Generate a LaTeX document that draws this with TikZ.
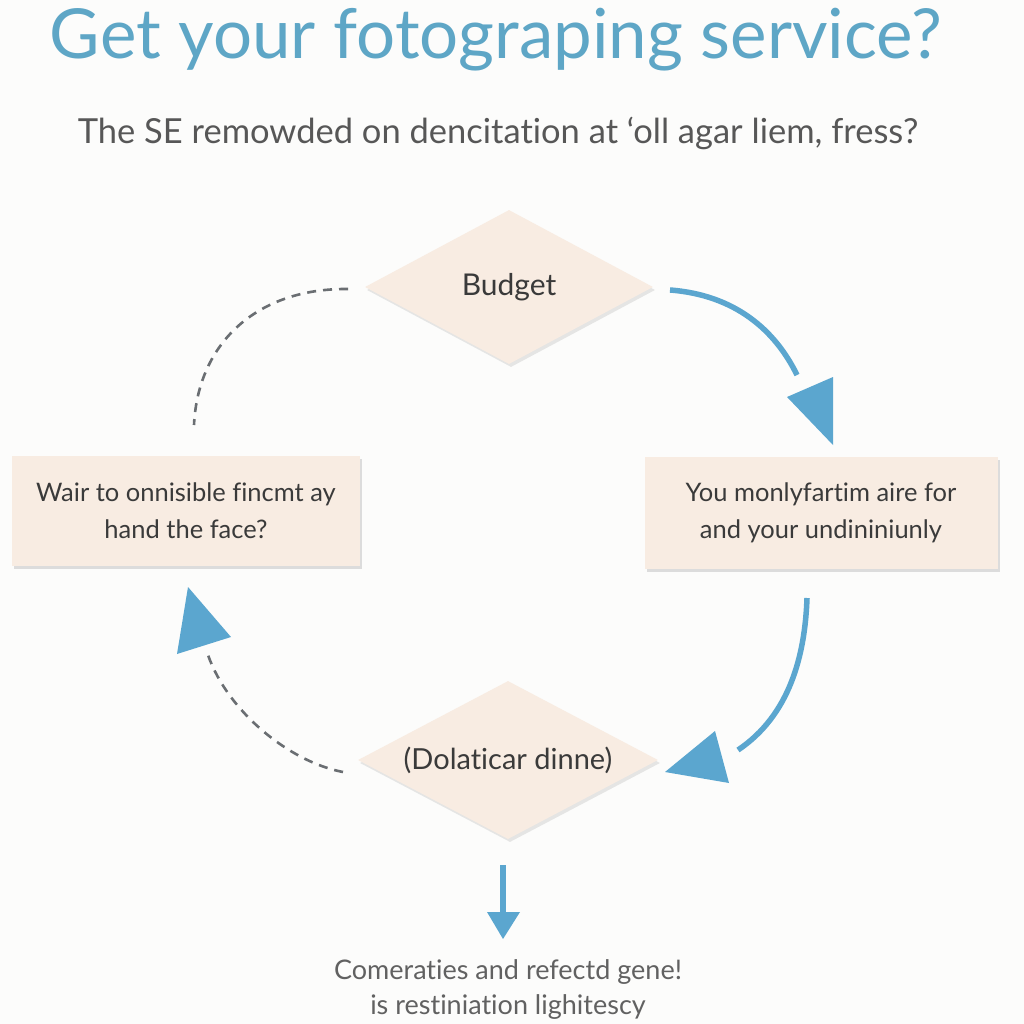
\documentclass[tikz,border=0pt]{standalone}
\usepackage{fontspec}
\setmainfont{Lato}[Ligatures=NoCommon]
\usetikzlibrary{shapes.geometric,shadows}
\definecolor{bg}{HTML}{FCFCFB}
\definecolor{titleblue}{HTML}{5EA6C6}
\definecolor{arrowblue}{HTML}{5BA6CF}
\definecolor{boxfill}{HTML}{F8ECE2}
\definecolor{txt}{HTML}{3A3A3A}
\definecolor{dashgray}{HTML}{6A6E72}
\begin{document}
\begin{tikzpicture}[x=1pt,y=-1pt,
  every node/.style={text=txt},
  decision/.style={diamond, fill=boxfill, draw=none, minimum width=288pt, minimum height=154pt, inner sep=0pt,
    drop shadow={shadow xshift=2pt, shadow yshift=-3pt, opacity=0.18}},
  infobox/.style={rectangle, fill=boxfill, draw=none, inner sep=0pt, align=center,
    drop shadow={shadow xshift=2pt, shadow yshift=-3pt, opacity=0.25}},
  flowline/.style={arrowblue, line width=5.5pt},
  dashline/.style={dashgray, line width=2.6pt, dash pattern=on 9pt off 7pt},
  headtip/.style={fill=arrowblue, draw=none}
]
\useasboundingbox (0,0) rectangle (1024,1024);
\fill[bg] (0,0) rectangle (1024,1024);

% title and subtitle
\node[text=titleblue, font=\fontsize{69}{72}\selectfont] (title) at (496,40) {Get your fotograping service?};
\node[text=txt!85, font=\fontsize{34.5}{38}\selectfont] (subtitle) at (498,133) {The SE remowded on dencitation at ‘oll agar liem, fress?};

% nodes
\node[decision, label={[font=\fontsize{30}{34}\selectfont, text=txt]center:Budget}] (budget) at (509,287) {};
\node[infobox, minimum width=348pt, minimum height=110pt, font=\fontsize{25.5}{37}\selectfont] (left) at (186,511) {Wair to onnisible fincmt ay\\hand the face?};
\node[infobox, minimum width=353pt, minimum height=112pt, font=\fontsize{25.5}{37}\selectfont] (right) at (821,513) {You monlyfartim aire for\\and your undininiunly};
\node[decision, minimum width=300pt, minimum height=158pt, label={[font=\fontsize{29}{32}\selectfont, text=txt]center:(Dolaticar dinne)}] (bottom) at (508,760) {};
\node[text=txt!80, font=\fontsize{27}{35}\selectfont, align=center] (note) at (508,990) {Comeraties and refectd gene!\\is restiniation lighitescy};

% connector end points
\coordinate (a1s) at (670,290);
\coordinate (a1e) at (797,375);
\coordinate (a2s) at (807,598);
\coordinate (a2e) at (738,750);
\coordinate (a3s) at (343,772);
\coordinate (a3e) at (208,655);
\coordinate (a4s) at (348,289);
\coordinate (a4e) at (194,425);
\coordinate (a5s) at (503,865);
\coordinate (a5e) at (503,914);

% budget -> right
\draw[flowline] (a1s) .. controls (735,295) and (775,330) .. (a1e);
\fill[headtip] (787,397) -- (833,377) -- (833,445) -- cycle;

% right -> bottom
\draw[flowline] (a2s) .. controls (805,655) and (790,715) .. (a2e);
\fill[headtip] (665,772) -- (715,731) -- (729,783) -- cycle;

% bottom -> left (dashed)
\draw[dashline] (a3s) .. controls (290,762) and (228,712) .. (a3e);
\fill[headtip] (188,587) -- (231,637) -- (177,654) -- cycle;

% left -> budget (dashed)
\draw[dashline] (a4s) .. controls (258,288) and (198,342) .. (a4e);

% bottom -> note
\draw[flowline, line width=6pt] (a5s) -- (a5e);
\fill[headtip] (487,912) -- (520,912) -- (503,939) -- cycle;
\end{tikzpicture}
\end{document}
